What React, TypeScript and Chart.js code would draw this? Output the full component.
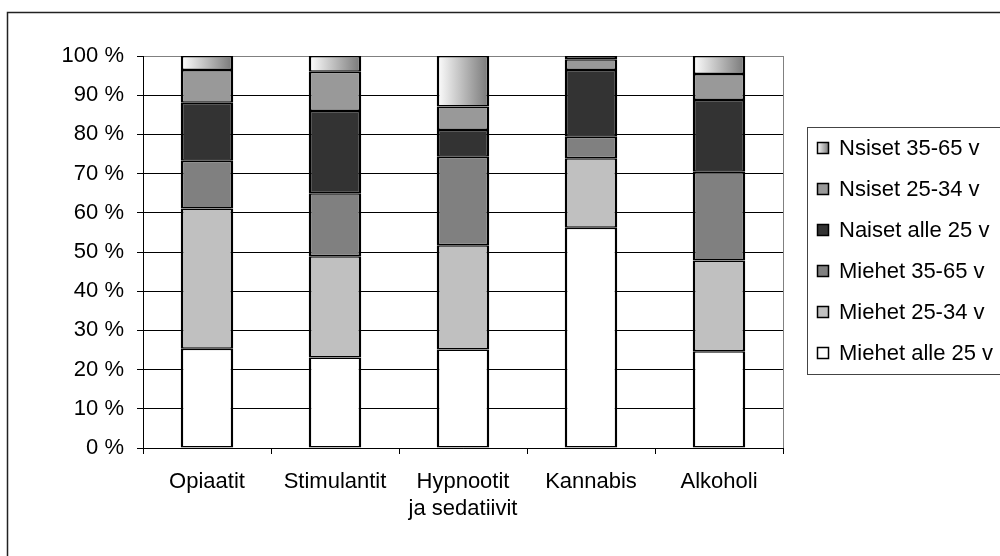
import React, { useEffect, useRef } from 'react';
import { Chart, registerables } from 'chart.js';

Chart.register(...registerables);

const categories: (string | string[])[] = ['Opiaatit', 'Stimulantit', ['Hypnootit', 'ja sedatiivit'], 'Kannabis', 'Alkoholi'];

const seriesNames = ['Miehet alle 25 v', 'Miehet 25-34 v', 'Miehet 35-65 v', 'Naiset alle 25 v', 'Nsiset 25-34 v', 'Nsiset 35-65 v'];

const miehetAlle25 = [25.3, 23.1, 25.1, 56.2, 24.7];
const miehet2534 = [35.8, 25.8, 26.6, 17.7, 23.1];
const miehet3565 = [12.2, 16.1, 22.6, 5.5, 22.7];
const naisetAlle25 = [14.8, 21.0, 6.8, 17.0, 18.3];
const naiset2534 = [8.3, 10.0, 6.0, 2.8, 6.6];
const naiset3565 = [3.6, 4.0, 12.9, 0.8, 4.6];

const seriesValues = [miehetAlle25, miehet2534, miehet3565, naisetAlle25, naiset2534, naiset3565];
const seriesColors = ['#ffffff', '#c0c0c0', '#808080', '#333333', '#999999', 'gradient'];

const yMin = 0;
const yMax = 100;
const yStep = 10;

const FONT = "'Liberation Sans', Arial, sans-serif";
const BAR_PCT = 0.41;

export default function App() {
  const ref = useRef<HTMLCanvasElement>(null);

  useEffect(() => {
    document.body.style.margin = '0';
    const canvas = ref.current!;

    const gradientFill = (c: any) => {
      const chart = c.chart;
      const xs = chart.scales && chart.scales.x;
      if (!xs || c.dataIndex === undefined || !xs.width) return '#bbbbbb';
      const cx = xs.getPixelForValue(c.dataIndex);
      const w = (xs.width / categories.length) * BAR_PCT;
      const g = chart.ctx.createLinearGradient(cx - w / 2, 0, cx + w / 2, 0);
      g.addColorStop(0, '#ffffff');
      g.addColorStop(1, '#777777');
      return g;
    };

    const framePlugin = {
      id: 'frame',
      beforeDraw(chart: any) {
        const ctx = chart.ctx;
        ctx.save();
        ctx.fillStyle = '#ffffff';
        ctx.fillRect(0, 0, chart.width, chart.height);
        ctx.strokeStyle = '#222222';
        ctx.lineWidth = 1.5;
        ctx.beginPath();
        ctx.moveTo(7.5, chart.height + 5);
        ctx.lineTo(7.5, 12.5);
        ctx.lineTo(chart.width + 5, 12.5);
        ctx.stroke();
        ctx.restore();
      },
      beforeDatasetsDraw(chart: any) {
        const { ctx, chartArea } = chart;
        ctx.save();
        ctx.strokeStyle = '#808080';
        ctx.lineWidth = 1;
        ctx.beginPath();
        const x = Math.round(chartArea.right) + 0.5;
        ctx.moveTo(x, chartArea.top);
        ctx.lineTo(x, chartArea.bottom);
        ctx.stroke();
        ctx.restore();
      },
    };

    const legendPlugin = {
      id: 'customLegend',
      afterDraw(chart: any) {
        const ctx = chart.ctx;
        ctx.save();
        ctx.strokeStyle = '#444444';
        ctx.lineWidth = 1;
        ctx.strokeRect(807.5, 127.5, 300, 247);
        ctx.font = `22px ${FONT}`;
        ctx.textBaseline = 'middle';
        ctx.textAlign = 'left';
        const n = chart.data.datasets.length;
        for (let k = 0; k < n; k++) {
          const ds = chart.data.datasets[n - 1 - k];
          const y = 148 + k * 41;
          const bx = 817;
          const by = y - 6;
          let fill: any = seriesColors[n - 1 - k];
          if (fill === 'gradient') {
            const g = ctx.createLinearGradient(bx, 0, bx + 12, 0);
            g.addColorStop(0, '#ffffff');
            g.addColorStop(1, '#777777');
            fill = g;
          }
          ctx.fillStyle = fill;
          ctx.fillRect(bx, by, 12, 12);
          ctx.strokeStyle = '#000000';
          ctx.lineWidth = 1.5;
          ctx.strokeRect(bx + 0.5, by + 0.5, 11, 11);
          ctx.fillStyle = '#000000';
          ctx.fillText(ds.label, 839, y + 1);
        }
        ctx.restore();
      },
    };

    const chart = new Chart(canvas, {
      type: 'bar',
      data: {
        labels: categories,
        datasets: seriesNames.map((name, i) => ({
          label: name,
          data: seriesValues[i],
          backgroundColor: seriesColors[i] === 'gradient' ? gradientFill : seriesColors[i],
          borderColor: '#000000',
          borderWidth: { top: 1.5, bottom: 1.5, left: 2.5, right: 2.5 },
          borderSkipped: false,
          barPercentage: BAR_PCT,
          categoryPercentage: 1,
        })),
      },
      options: {
        responsive: false,
        animation: false,
        devicePixelRatio: 1,
        layout: { padding: { top: 56, right: 217, left: 0, bottom: 0 } },
        plugins: {
          legend: { display: false },
          tooltip: { enabled: false },
          title: { display: false },
        },
        scales: {
          x: {
            stacked: true,
            offset: true,
            grid: {
              offset: true,
              drawOnChartArea: false,
              drawTicks: true,
              tickLength: 6,
              tickColor: (c: any) => (c.index === categories.length ? '#808080' : '#000000'),
              lineWidth: 1,
            },
            border: { display: true, color: '#000000', width: 1 },
            ticks: {
              color: '#000000',
              font: { family: FONT, size: 22, lineHeight: 1.2 },
              padding: 15,
              maxRotation: 0,
              minRotation: 0,
              autoSkip: false,
            },
            afterFit: (s: any) => {
              s.height = 108;
            },
          },
          y: {
            stacked: true,
            min: yMin,
            max: yMax,
            grid: {
              color: (c: any) => (c.tick && c.tick.value === yMax ? '#808080' : '#000000'),
              lineWidth: 1,
              drawTicks: true,
              tickLength: 6,
              tickColor: '#000000',
            },
            border: { display: true, color: '#000000', width: 1 },
            ticks: {
              stepSize: yStep,
              color: '#000000',
              font: { family: FONT, size: 22 },
              padding: 13,
              callback: (v: any) => `${v} %`,
            },
            afterFit: (s: any) => {
              s.width = 143;
            },
          },
        },
      },
      plugins: [framePlugin, legendPlugin],
    });

    return () => chart.destroy();
  }, []);

  return (
    <div style={{ position: 'absolute', left: 0, top: 0, width: 1000, height: 556 }}>
      <canvas ref={ref} width={1000} height={556} style={{ width: 1000, height: 556, display: 'block' }} />
    </div>
  );
}
